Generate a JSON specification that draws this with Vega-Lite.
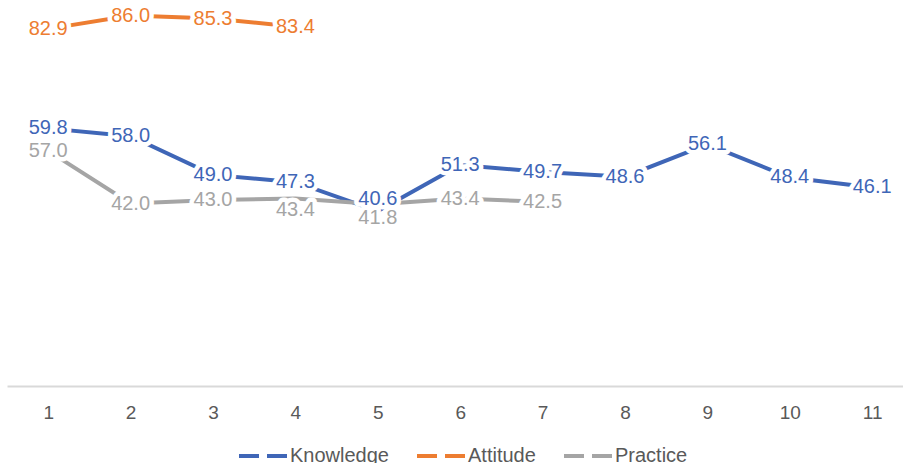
{
  "$schema": "https://vega.github.io/schema/vega-lite/v6.json",
  "autosize": {"type": "none"},
  "padding": {"left": 7, "top": 0, "right": 0, "bottom": 77},
  "width": 896,
  "height": 386,
  "background": "white",
  "config": {"view": {"stroke": null}},
  "data": {
    "values": [
      {"x": 1, "series": "Knowledge", "value": 59.8},
      {"x": 2, "series": "Knowledge", "value": 58.0},
      {"x": 3, "series": "Knowledge", "value": 49.0},
      {"x": 4, "series": "Knowledge", "value": 47.3},
      {"x": 5, "series": "Knowledge", "value": 40.6},
      {"x": 6, "series": "Knowledge", "value": 51.3},
      {"x": 7, "series": "Knowledge", "value": 49.7},
      {"x": 8, "series": "Knowledge", "value": 48.6},
      {"x": 9, "series": "Knowledge", "value": 56.1},
      {"x": 10, "series": "Knowledge", "value": 48.4},
      {"x": 11, "series": "Knowledge", "value": 46.1},
      {"x": 1, "series": "Attitude", "value": 82.9},
      {"x": 2, "series": "Attitude", "value": 86.0},
      {"x": 3, "series": "Attitude", "value": 85.3},
      {"x": 4, "series": "Attitude", "value": 83.4},
      {"x": 1, "series": "Practice", "value": 57.0},
      {"x": 2, "series": "Practice", "value": 42.0},
      {"x": 3, "series": "Practice", "value": 43.0},
      {"x": 4, "series": "Practice", "value": 43.4},
      {"x": 5, "series": "Practice", "value": 41.8},
      {"x": 6, "series": "Practice", "value": 43.4},
      {"x": 7, "series": "Practice", "value": 42.5}
    ]
  },
  "encoding": {
    "x": {
      "field": "x",
      "type": "quantitative",
      "scale": {"domain": [0.5, 11.374], "nice": false, "zero": false},
      "axis": {
        "values": [1, 2, 3, 4, 5, 6, 7, 8, 9, 10, 11],
        "format": "d",
        "title": null,
        "grid": false,
        "ticks": false,
        "domainColor": "#d9d9d9",
        "domainWidth": 2,
        "labelColor": "#595959",
        "labelFont": "Liberation Sans",
        "labelFontSize": 19,
        "labelPadding": 17
      }
    },
    "color": {
      "field": "series",
      "type": "nominal",
      "scale": {"domain": ["Knowledge", "Attitude", "Practice"], "range": ["#3F66B7", "#ED7D31", "#A5A5A5"]},
      "legend": {
        "title": null,
        "orient": "none",
        "legendX": 230,
        "legendY": 430,
        "direction": "horizontal",
        "symbolType": "stroke",
        "symbolStrokeWidth": 4,
        "symbolDash": [20, 8],
        "symbolSize": 2304,
        "labelFont": "Liberation Sans",
        "labelFontSize": 20,
        "labelColor": "#595959",
        "labelOffset": 1,
        "columnPadding": 20,
        "padding": 0
      }
    }
  },
  "resolve": {"scale": {"y": "independent"}},
  "layer": [
    {
      "transform": [{"filter": "datum.series != 'Practice'"}],
      "mark": {"type": "line", "strokeWidth": 4},
      "encoding": {"y": {"field": "value", "type": "quantitative", "scale": {"domain": [0, 89.6], "nice": false}, "axis": null}}
    },
    {
      "transform": [{"filter": "datum.series == 'Practice'"}],
      "mark": {"type": "line", "strokeWidth": 4},
      "encoding": {"y": {"field": "value", "type": "quantitative", "scale": {"domain": [-10, 100], "nice": false}, "axis": null}}
    },
    {
      "transform": [{"filter": "datum.series != 'Practice' && !(datum.x == 5)"}],
      "mark": {"type": "text", "font": "Liberation Sans", "fontSize": 20, "stroke": "white", "strokeWidth": 9, "strokeJoin": "round", "fill": "white"},
      "encoding": {"y": {"field": "value", "type": "quantitative", "scale": {"domain": [0, 89.6], "nice": false}, "axis": null}, "text": {"field": "value", "format": ".1f"}, "color": {"value": "white"}}
    },
    {
      "transform": [{"filter": "datum.series == 'Knowledge' && datum.x == 5"}],
      "mark": {"type": "text", "font": "Liberation Sans", "fontSize": 20, "dy": -12, "stroke": "white", "strokeWidth": 9, "strokeJoin": "round", "fill": "white"},
      "encoding": {"y": {"field": "value", "type": "quantitative", "scale": {"domain": [0, 89.6], "nice": false}, "axis": null}, "text": {"field": "value", "format": ".1f"}, "color": {"value": "white"}}
    },
    {
      "transform": [{"filter": "datum.series == 'Practice' && datum.x != 4 && datum.x != 5"}],
      "mark": {"type": "text", "font": "Liberation Sans", "fontSize": 20, "stroke": "white", "strokeWidth": 9, "strokeJoin": "round", "fill": "white"},
      "encoding": {"y": {"field": "value", "type": "quantitative", "scale": {"domain": [-10, 100], "nice": false}, "axis": null}, "text": {"field": "value", "format": ".1f"}, "color": {"value": "white"}}
    },
    {
      "transform": [{"filter": "datum.series == 'Practice' && datum.x == 4"}],
      "mark": {"type": "text", "font": "Liberation Sans", "fontSize": 20, "dy": 11, "stroke": "white", "strokeWidth": 9, "strokeJoin": "round", "fill": "white"},
      "encoding": {"y": {"field": "value", "type": "quantitative", "scale": {"domain": [-10, 100], "nice": false}, "axis": null}, "text": {"field": "value", "format": ".1f"}, "color": {"value": "white"}}
    },
    {
      "transform": [{"filter": "datum.series == 'Practice' && datum.x == 5"}],
      "mark": {"type": "text", "font": "Liberation Sans", "fontSize": 20, "dy": 14, "stroke": "white", "strokeWidth": 9, "strokeJoin": "round", "fill": "white"},
      "encoding": {"y": {"field": "value", "type": "quantitative", "scale": {"domain": [-10, 100], "nice": false}, "axis": null}, "text": {"field": "value", "format": ".1f"}, "color": {"value": "white"}}
    },
    {
      "transform": [{"filter": "datum.series != 'Practice' && !(datum.x == 5)"}],
      "mark": {"type": "text", "font": "Liberation Sans", "fontSize": 20},
      "encoding": {"y": {"field": "value", "type": "quantitative", "scale": {"domain": [0, 89.6], "nice": false}, "axis": null}, "text": {"field": "value", "format": ".1f"}}
    },
    {
      "transform": [{"filter": "datum.series == 'Knowledge' && datum.x == 5"}],
      "mark": {"type": "text", "font": "Liberation Sans", "fontSize": 20, "dy": -12},
      "encoding": {"y": {"field": "value", "type": "quantitative", "scale": {"domain": [0, 89.6], "nice": false}, "axis": null}, "text": {"field": "value", "format": ".1f"}}
    },
    {
      "transform": [{"filter": "datum.series == 'Practice' && datum.x != 4 && datum.x != 5"}],
      "mark": {"type": "text", "font": "Liberation Sans", "fontSize": 20},
      "encoding": {"y": {"field": "value", "type": "quantitative", "scale": {"domain": [-10, 100], "nice": false}, "axis": null}, "text": {"field": "value", "format": ".1f"}}
    },
    {
      "transform": [{"filter": "datum.series == 'Practice' && datum.x == 4"}],
      "mark": {"type": "text", "font": "Liberation Sans", "fontSize": 20, "dy": 11},
      "encoding": {"y": {"field": "value", "type": "quantitative", "scale": {"domain": [-10, 100], "nice": false}, "axis": null}, "text": {"field": "value", "format": ".1f"}}
    },
    {
      "transform": [{"filter": "datum.series == 'Practice' && datum.x == 5"}],
      "mark": {"type": "text", "font": "Liberation Sans", "fontSize": 20, "dy": 14},
      "encoding": {"y": {"field": "value", "type": "quantitative", "scale": {"domain": [-10, 100], "nice": false}, "axis": null}, "text": {"field": "value", "format": ".1f"}}
    }
  ]
}
